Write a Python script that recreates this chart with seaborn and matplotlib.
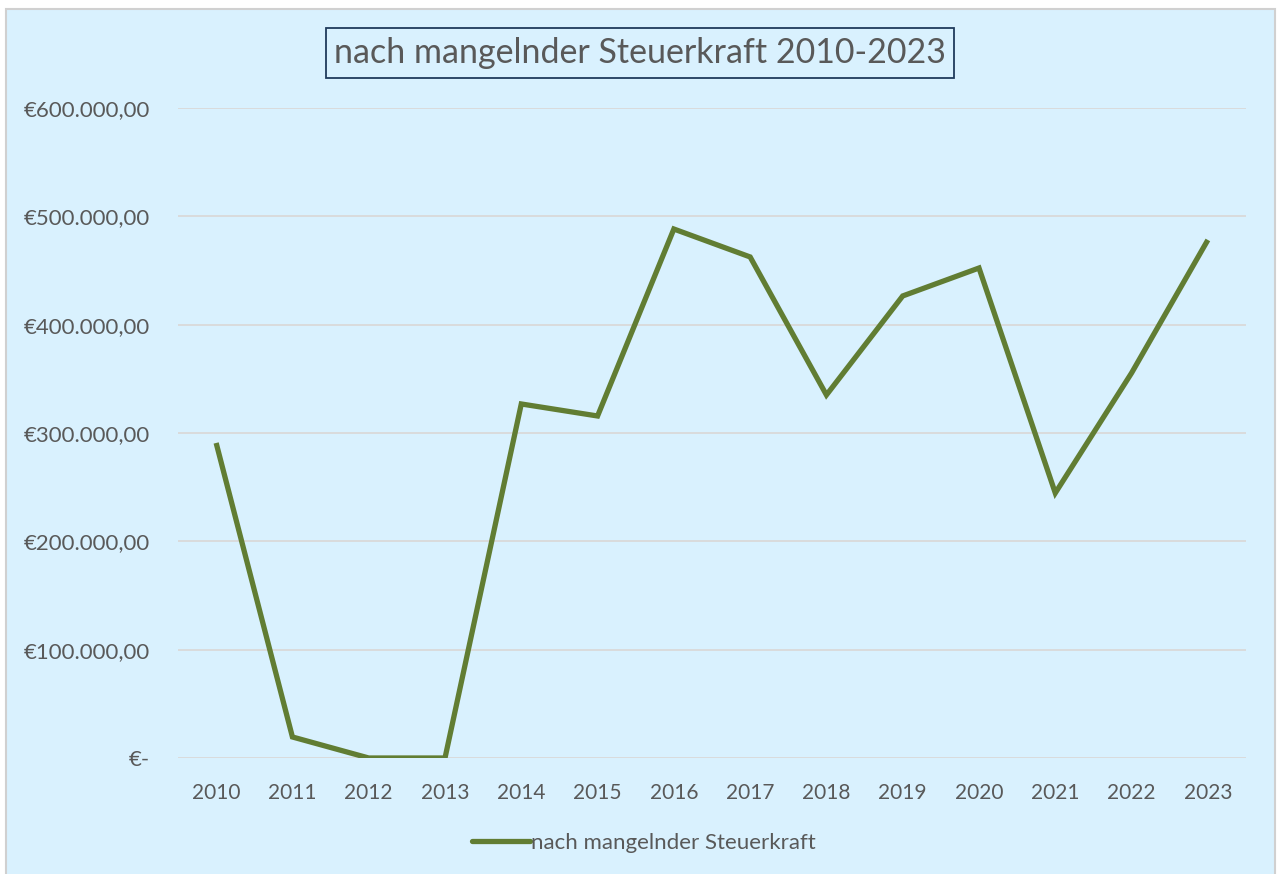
import matplotlib
matplotlib.use("Agg")
import matplotlib.pyplot as plt
import seaborn as sns
import pandas as pd
from matplotlib.patches import Rectangle
from matplotlib.ticker import FuncFormatter
from matplotlib.lines import Line2D

years = ["2010", "2011", "2012", "2013", "2014", "2015", "2016",
         "2017", "2018", "2019", "2020", "2021", "2022", "2023"]
values = [290800, 19400, 0, 0, 326800, 315700, 488300,
          462500, 335100, 426500, 452300, 244600, 355400, 478200]
series_name = "nach mangelnder Steuerkraft"
title = "nach mangelnder Steuerkraft 2010-2023"
y_ticks = [0, 100000, 200000, 300000, 400000, 500000, 600000]

df = pd.DataFrame({"Jahr": years, "Wert": values, "Serie": series_name})

sns.set_theme(style="white")
plt.rcParams['font.family'] = ['Lato', 'DejaVu Sans']

W, H = 1282, 874
fig = plt.figure(figsize=(W / 100, H / 100), dpi=100)
fig.patch.set_facecolor("white")
bg = "#D9F1FE"
fig.patches.append(Rectangle((6 / W, -0.01), (1275 - 6) / W, (H - 9) / H + 0.01,
                             transform=fig.transFigure, facecolor=bg,
                             edgecolor="#D0D0D0", linewidth=1.5, zorder=-10))

ax = fig.add_axes([178 / W, 1 - 758 / H, (1246 - 178) / W, (758 - 108) / H])
ax.set_facecolor("none")
ax.set_zorder(1)

line_color = "#617D33"
sns.lineplot(data=df, x="Jahr", y="Wert", hue="Serie", palette=[line_color],
             linewidth=3.8, ax=ax, sort=False, legend=False)
ax.lines[0].set_solid_joinstyle("miter")
ax.lines[0].set_solid_capstyle("butt")

ax.set_xlim(-0.5, len(years) - 0.5)
ax.set_ylim(0, 600000)
ax.set_yticks(y_ticks)

def fmt(v, pos):
    if v == 0:
        return "€-"
    s = f"{v:,.2f}".replace(",", "X").replace(".", ",").replace("X", ".")
    return "€" + s
ax.yaxis.set_major_formatter(FuncFormatter(fmt))
ax.yaxis.grid(True, color="#D9D9D9", linewidth=1.3)
ax.set_axisbelow(True)
for s in ax.spines.values():
    s.set_visible(False)
ax.tick_params(axis="both", length=0, labelcolor="#595959")
ax.tick_params(axis="y", pad=20, labelsize=16)
ax.tick_params(axis="x", pad=18, labelsize=15)
ax.set_xlabel("")
ax.set_ylabel("")

fig.text(640 / W, 1 - 53 / H, title, ha="center", va="center", fontsize=24.5,
         color="#595959", zorder=5,
         bbox=dict(boxstyle="square,pad=0.25", facecolor=bg,
                   edgecolor="#1F3B5C", linewidth=1.3))

handle = Line2D([], [], color=line_color, linewidth=3.8, solid_capstyle="round")
fig.legend([handle], [series_name], loc="center", bbox_to_anchor=(644 / W, 1 - 843 / H),
           frameon=False, fontsize=16, labelcolor="#595959", handlelength=2.6,
           handletextpad=0.05)

fig.savefig("out.png", dpi=100)
